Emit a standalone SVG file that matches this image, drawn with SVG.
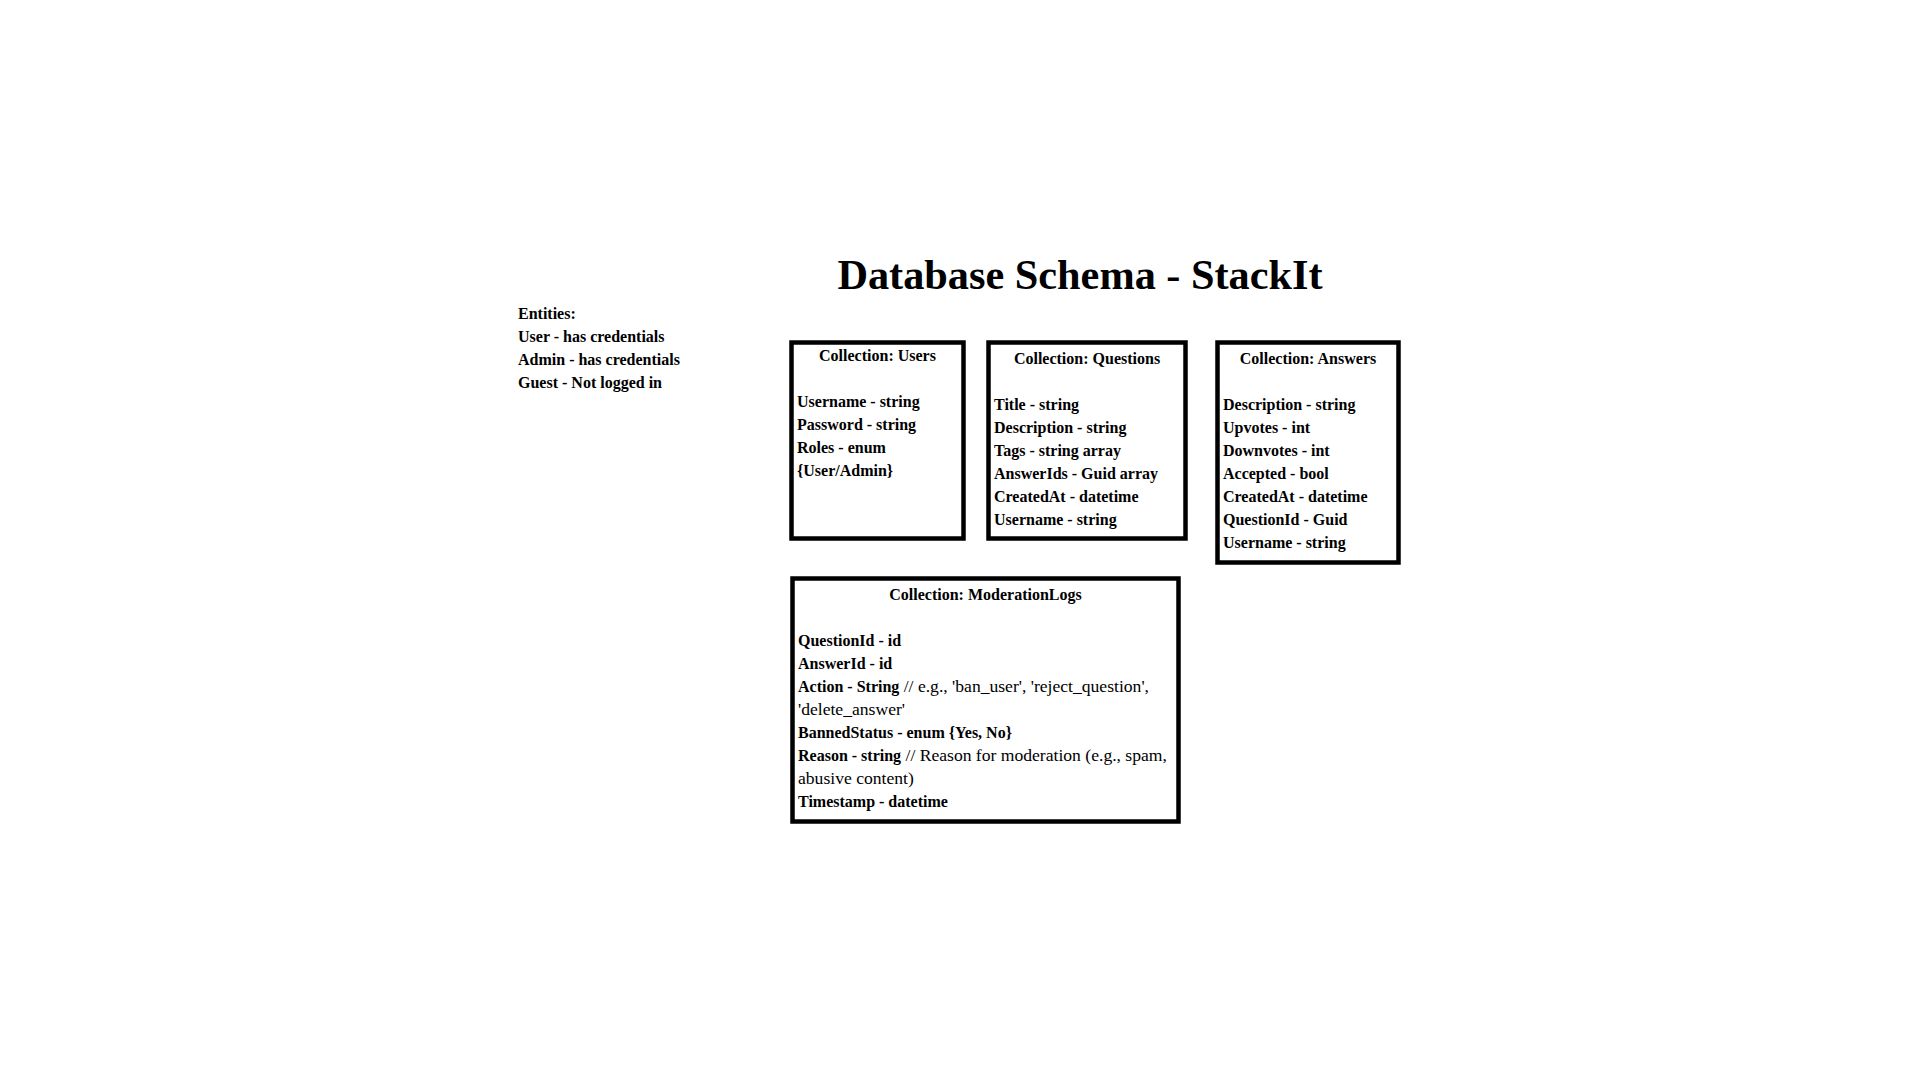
<svg xmlns="http://www.w3.org/2000/svg" width="1920" height="1080" viewBox="0 0 1920 1080">
<style>
text{font-family:"Liberation Serif","Times New Roman",serif;fill:#000;font-size:16px;font-weight:bold}
.title{font-size:42.3px;text-anchor:middle}
.hd{text-anchor:middle}
.n{font-weight:normal;font-size:17.6px}
.box{fill:#fff;stroke:#000;stroke-width:4.5}
</style>
<rect width="1920" height="1080" fill="#fff"/>
<text id="title" class="title" x="1080" y="289">Database Schema - StackIt</text>
<g id="entities">
<text x="518" y="319.3">Entities:</text>
<text x="518" y="342.3">User - has credentials</text>
<text x="518" y="365.3">Admin - has credentials</text>
<text x="518" y="388.3">Guest - Not logged in</text>
</g>
<g id="users">
<rect class="box" x="791.5" y="342.5" width="172" height="196"/>
<text class="hd" x="877.5" y="361.3">Collection: Users</text>
<text x="797" y="407.3">Username - string</text>
<text x="797" y="430.3">Password - string</text>
<text x="797" y="453.3">Roles - enum</text>
<text x="797" y="476.3">{User/Admin}</text>
</g>
<g id="questions">
<rect class="box" x="988.5" y="342.5" width="197" height="196"/>
<text class="hd" x="1087" y="363.8">Collection: Questions</text>
<text x="994" y="410.3">Title - string</text>
<text x="994" y="433.3">Description - string</text>
<text x="994" y="456.3">Tags - string array</text>
<text x="994" y="479.3">AnswerIds - Guid array</text>
<text x="994" y="502.3">CreatedAt - datetime</text>
<text x="994" y="525.3">Username - string</text>
</g>
<g id="answers">
<rect class="box" x="1217.5" y="342.5" width="181" height="220"/>
<text class="hd" x="1308" y="363.8">Collection: Answers</text>
<text x="1223" y="410.3">Description - string</text>
<text x="1223" y="433.3">Upvotes - int</text>
<text x="1223" y="456.3">Downvotes - int</text>
<text x="1223" y="479.3">Accepted - bool</text>
<text x="1223" y="502.3">CreatedAt - datetime</text>
<text x="1223" y="525.3">QuestionId - Guid</text>
<text x="1223" y="548.3">Username - string</text>
</g>
<g id="moderationlogs">
<rect class="box" x="792.5" y="578.5" width="386" height="243"/>
<text class="hd" x="985.5" y="600.3">Collection: ModerationLogs</text>
<text x="798" y="646.3">QuestionId - id</text>
<text x="798" y="669.3">AnswerId - id</text>
<text x="798" y="692.3">Action - String<tspan class="n"> // e.g., 'ban_user', 'reject_question',</tspan></text>
<text class="n" x="798" y="715.3">'delete_answer'</text>
<text x="798" y="738.3">BannedStatus - enum {Yes, No}</text>
<text x="798" y="761.3">Reason - string<tspan class="n"> // Reason for moderation (e.g., spam,</tspan></text>
<text class="n" x="798" y="784.3">abusive content)</text>
<text x="798" y="807.3">Timestamp - datetime</text>
</g>
<g id="connectors"></g>
</svg>
